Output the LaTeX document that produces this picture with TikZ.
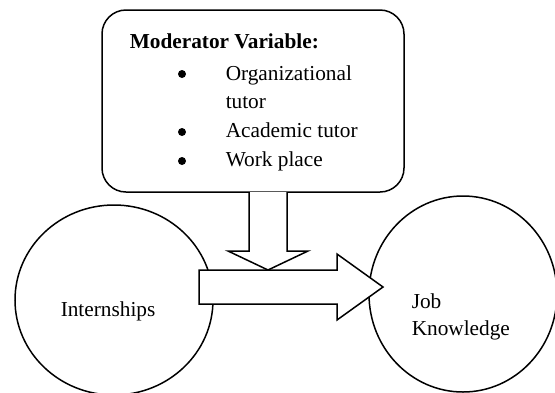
\documentclass[tikz,border=0pt]{standalone}
\usepackage{fontspec}
\setmainfont{Liberation Serif}
\usetikzlibrary{shapes.geometric}
\begin{document}
\begin{tikzpicture}[x=1pt,y=-1pt, line width=1.5pt,
  txt/.style={anchor=base west, inner sep=0pt, font=\fontsize{21.3}{25}\selectfont},
  dot/.style={circle, fill, inner sep=0pt, minimum size=8pt},
  bubble/.style={draw, ellipse, inner sep=0pt},
  blockarrow/.style={draw, fill=white, line join=miter}]
\useasboundingbox (0,0) rectangle (555,392);
% moderator box
\node[draw, rounded corners=24pt, minimum width=302pt, minimum height=182pt, inner sep=0pt] (mod) at (253,101) {};
\node[txt, font=\fontsize{21.3}{25}\selectfont\bfseries] (title) at (129,48) {Moderator Variable:};
\node[dot] (b1) at (182,74) {};
\node[txt] (i1) at (225,80) {Organizational};
\node[txt] (i1b) at (225,108.5) {tutor};
\node[dot] (b2) at (182,132) {};
\node[txt] (i2) at (225,137) {Academic tutor};
\node[dot] (b3) at (182,161) {};
\node[txt] (i3) at (225,166) {Work place};
% circles
\node[bubble, minimum width=198pt, minimum height=190pt] (intern) at (114,300) {};
\node[bubble, minimum width=188pt, minimum height=196pt] (job) at (463,294) {};
\node[txt] (internT) at (60,316) {Internships};
\node[txt] (jobT1) at (411,308) {Job};
\node[txt] (jobT2) at (411,335) {Knowledge};
% block arrows
\draw[blockarrow] (199,270) -- (337,270) -- (337,254) -- (383,287) -- (337,320) -- (337,304) -- (199,304) -- cycle;
\draw[blockarrow] (249,192) -- (249,251) -- (228,251) -- (268,270) -- (308,251) -- (287,251) -- (287,192);
\end{tikzpicture}
\end{document}
